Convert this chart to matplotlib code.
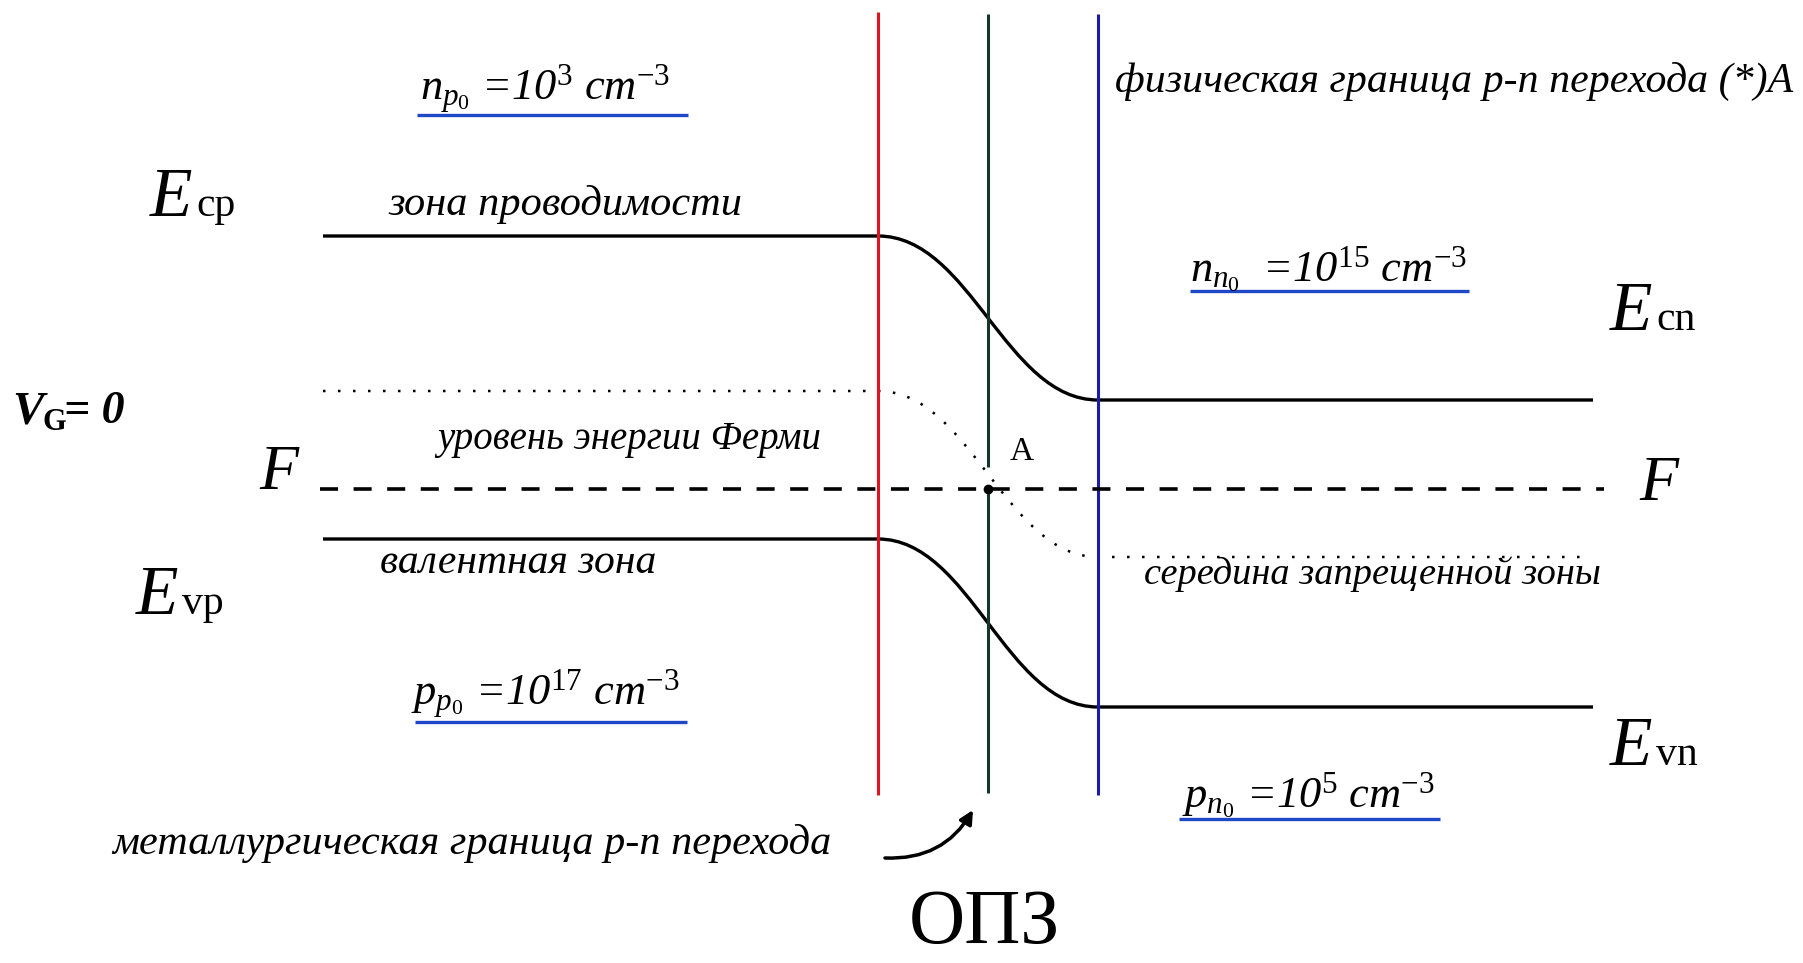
import matplotlib
matplotlib.use("Agg")
import matplotlib.pyplot as plt
from matplotlib.path import Path
from matplotlib.patches import PathPatch, FancyArrowPatch

plt.rcParams['font.family'] = ['Liberation Serif', 'DejaVu Serif']
plt.rcParams['mathtext.fontset'] = 'custom'
plt.rcParams['mathtext.rm'] = 'Liberation Serif'
plt.rcParams['mathtext.it'] = 'Liberation Serif:italic'
plt.rcParams['mathtext.bf'] = 'Liberation Serif:bold'

# picture coordinates (px), y grows downward
boundary_x = [878, 988, 1098]          # p-side edge, metallurgical, n-side edge
boundary_colors = ['#e0141e', '#17352e', '#1c1ca8']
boundary_top = [12, 14, 14]
boundary_bottom = 795

band_x = [323, 1593]                   # left / right end of the band lines
Ec = [236, 400]                        # conduction band, p / n
Ev = [539, 707]                        # valence band, p / n
Ei = [391, 557]                        # mid-gap, p / n
Ei_x = [323, 1587]
F_level = 489
F_x = [320, 1604]
point_A = (988, 489)

conc_labels = [r'$n_{p_0}$ =10$^{3}$ cm$^{-3}$',
               r'$n_{n_0}$  =10$^{15}$ cm$^{-3}$',
               r'$p_{p_0}$ =10$^{17}$ cm$^{-3}$',
               r'$p_{n_0}$ =10$^{5}$ cm$^{-3}$']
conc_pos = [(420, 100), (1190, 281), (411, 705), (1182, 807)]
conc_line = [(417, 688, 115), (1190, 1469, 291), (415, 687, 722), (1179, 1440, 819)]

E_main = ['cp', 'cn', 'vp', 'vn']
E_pos = [(150, 216), (1610, 330), (136, 614), (1610, 765)]

notes = ['зона проводимости', 'уровень энергии Ферми', 'валентная зона',
         'середина запрещенной зоны', 'физическая граница p-n перехода (*)A',
         'металлургическая граница p-n перехода']
notes_pos = [(389, 215), (437, 449), (380, 573), (1144, 584), (1115, 92), (112, 854)]
notes_size = [30.5, 28, 30, 27.6, 30.2, 30.4]

fig = plt.figure(figsize=(18.03, 9.63), dpi=100)
ax = fig.add_axes([0, 0, 1, 1])
ax.set_xlim(0, 1803)
ax.set_ylim(963, 0)
ax.axis('off')


def band_path(levels, xs):
    x0, x1 = boundary_x[0], boundary_x[2]
    k = 0.42 * (x1 - x0)
    verts = [(xs[0], levels[0]), (x0, levels[0]),
             (x0 + k, levels[0]), (x1 - k, levels[1]), (x1, levels[1]),
             (xs[1], levels[1])]
    codes = [Path.MOVETO, Path.LINETO, Path.CURVE4, Path.CURVE4, Path.CURVE4, Path.LINETO]
    return Path(verts, codes)


# vertical boundaries
for x, c, t in zip(boundary_x, boundary_colors, boundary_top):
    if c == '#17352e':
        ax.plot([x, x], [t, point_A[1] - 22], color=c, lw=2.2, solid_capstyle='butt')
        ax.plot([x, x], [point_A[1], boundary_bottom - 2], color=c, lw=2.2, solid_capstyle='butt')
    else:
        ax.plot([x, x], [t, boundary_bottom], color=c, lw=2.2, solid_capstyle='butt')

# bands
for lev in (Ec, Ev):
    ax.add_patch(PathPatch(band_path(lev, band_x), fill=False, lw=2.4, ec='black'))
ax.add_patch(PathPatch(band_path(Ei, Ei_x), fill=False, lw=1.8, ec='black',
                       ls=(0, (1, 5))))
ax.plot(F_x, [F_level, F_level], color='black', lw=2.6, ls=(0, (5, 4.3)))
ax.plot(*point_A, 'o', color='black', ms=6)

# concentrations with blue underline
for s, (x, y), (u0, u1, uy) in zip(conc_labels, conc_pos, conc_line):
    ax.text(x, y, s, fontsize=32, style='italic', va='baseline', ha='left')
    ax.plot([u0, u1], [uy, uy], color='#1f48c8', lw=2.4, solid_capstyle='butt')

# band edge labels
for sub, (x, y) in zip(E_main, E_pos):
    ax.text(x, y, 'E', fontsize=50, style='italic', va='baseline', ha='left')
    ax.text(x + 46, y, sub, fontsize=30, va='baseline', ha='left')

# italic notes
for s, (x, y), fs in zip(notes, notes_pos, notes_size):
    ax.text(x, y, s, fontsize=fs, style='italic', va='baseline', ha='left')

ax.text(259, 489, 'F', fontsize=46, style='italic', va='baseline')
ax.text(1639, 500, 'F', fontsize=46, style='italic', va='baseline')
ax.text(1010, 460, 'A', fontsize=24, va='baseline')

# V_G = 0
ax.text(12, 423, 'V', fontsize=34, style='italic', weight='bold', va='baseline')
ax.text(42, 430, 'G', fontsize=22, weight='bold', va='baseline')
ax.text(64, 423, '= 0', fontsize=33, style='italic', weight='bold', va='baseline')

ax.text(984, 960, 'ОПЗ', fontsize=56, ha='center', va='bottom')

ax.add_patch(FancyArrowPatch((885, 858), (973, 810), connectionstyle='arc3,rad=0.3',
                             arrowstyle='-|>,head_length=8,head_width=4', lw=2.5,
                             color='black', shrinkA=0, shrinkB=0))

fig.savefig('out.png', dpi=100, facecolor='white')
